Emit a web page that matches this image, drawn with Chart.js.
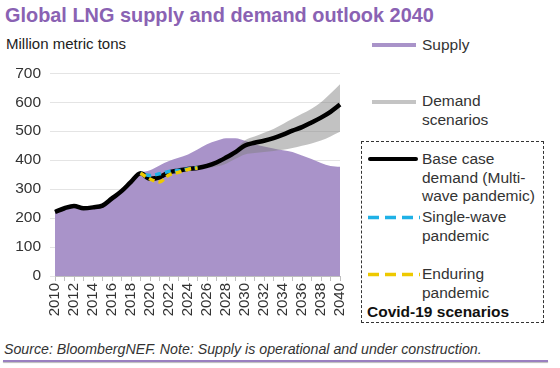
<!DOCTYPE html>
<html>
<head>
<meta charset="utf-8">
<script src="https://cdn.jsdelivr.net/npm/chart.js@4.4.1/dist/chart.umd.min.js"></script>
<style>
  body { margin: 0; width: 560px; height: 368px; background: #fff; font-family: "Liberation Sans", Arial, sans-serif; position: relative; overflow: hidden; }
  .abs { position: absolute; white-space: nowrap; }
  #title { left: 5px; top: 4px; font-size: 19.9px; font-weight: bold; color: #8a62b3; }
  #unit { left: 6px; top: 35px; font-size: 15px; color: #222; }
  #chart { position: absolute; left: 0; top: 55px; }
  .leg { font-size: 15.5px; color: #333; line-height: 18.5px; }
  .sw { position: absolute; height: 4px; }
  #box { left: 361px; top: 141px; width: 181px; height: 180px; border: 1px dashed #333; }
  #source { left: 4px; top: 341px; font-size: 14.2px; font-style: italic; color: #333; }
  #rule { left: 3px; top: 360px; width: 545px; height: 2px; background: #9a80c0; box-shadow: 0 1px 1px #bbb; }
</style>
</head>
<body>
<div class="abs" id="title">Global LNG supply and demand outlook 2040</div>
<div class="abs" id="unit">Million metric tons</div>
<canvas id="chart" width="360" height="280"></canvas>

<div class="sw" style="left:372px;top:43px;width:44px;background:#a993c9"></div>
<div class="abs leg" style="left:422px;top:36px">Supply</div>

<div class="sw" style="left:372px;top:100px;width:44px;background:#c4c4c4"></div>
<div class="abs leg" style="left:422px;top:92px">Demand<br>scenarios</div>

<div class="abs" id="box"></div>
<div class="sw" style="left:368px;top:157px;width:50px;height:4px;background:#000;border-radius:2px"></div>
<div class="abs leg" style="left:422px;top:150px">Base case<br>demand (Multi-<br>wave pandemic)</div>
<svg class="abs" style="left:368px;top:215px" width="52" height="5"><line x1="0" y1="2.5" x2="52" y2="2.5" stroke="#1fb1e6" stroke-width="3.5" stroke-dasharray="11,6"/></svg>
<div class="abs leg" style="left:422px;top:208px">Single-wave<br>pandemic</div>
<svg class="abs" style="left:368px;top:272px" width="52" height="5"><line x1="0" y1="2.5" x2="52" y2="2.5" stroke="#eec900" stroke-width="3.5" stroke-dasharray="11,6"/></svg>
<div class="abs leg" style="left:422px;top:265px">Enduring<br>pandemic</div>
<div class="abs leg" style="left:367px;top:303px;font-weight:bold;color:#111">Covid-19 scenarios</div>

<div class="abs" id="source">Source: BloombergNEF. Note: Supply is operational and under construction.</div>
<div class="abs" id="rule"></div>

<script>
const years = ['2010','2011','2012','2013','2014','2015','2016','2017','2018','2019','2020',
  '2021','2022','2023','2024','2025','2026','2027','2028','2029','2030',
  '2031','2032','2033','2034','2035','2036','2037','2038','2039','2040'];

const supply = [221, 233, 240, 233, 236, 241, 265, 290, 322, 355, 365,
  382, 397, 408, 420, 437, 455, 467, 476, 476, 467,
  456, 447, 440, 434, 428, 416, 404, 390, 380, 377];

const baseDemand = [221, 234, 242, 234, 237, 243, 268, 293, 325, 355, 336,
  341, 358, 364, 370, 373, 380, 392, 409, 428, 451,
  460, 467, 476, 488, 502, 514, 530, 547, 567, 592];

const singleWave = [null, null, null, null, null, null, null, null, null, 355, 347,
  353, 361, 364, 370, 374];

const enduring = [null, null, null, null, null, null, null, null, null, 355, 335,
  325, 349, 358, 368, 373];

const demandLow = [null, null, null, null, null, null, null, null, null, null, null,
  null, null, null, null, 370, 372, 378, 388, 405, 420,
  425, 428, 432, 436, 442, 450, 458, 468, 482, 498];

const demandHigh = [null, null, null, null, null, null, null, null, null, null, null,
  null, null, null, null, 375, 382, 396, 414, 437, 469,
  482, 495, 508, 525, 543, 560, 578, 600, 630, 662];

const yTicks = [0, 100, 200, 300, 400, 500, 600, 700];

new Chart(document.getElementById('chart'), {
  type: 'line',
  data: {
    labels: years,
    datasets: [
      // lower order is drawn on top
      { label: 'Enduring', data: enduring, borderColor: '#eec900', borderWidth: 3.5, borderDash: [6, 4], pointRadius: 0, fill: false, order: 0, cubicInterpolationMode: 'monotone' },
      { label: 'Single-wave', data: singleWave, borderColor: '#1fb1e6', borderWidth: 3.5, borderDash: [6, 4], borderDashOffset: 5, pointRadius: 0, fill: false, order: 1, cubicInterpolationMode: 'monotone' },
      { label: 'Base case', data: baseDemand, borderColor: '#000', borderWidth: 4.5, pointRadius: 0, fill: false, order: 2, cubicInterpolationMode: 'monotone' },
      { label: 'low', data: demandLow, borderColor: 'rgba(0,0,0,0)', borderWidth: 0, pointRadius: 0, fill: false, order: 3, cubicInterpolationMode: 'monotone' },
      { label: 'Demand scenarios', data: demandHigh, borderColor: 'rgba(0,0,0,0)', borderWidth: 0, pointRadius: 0, backgroundColor: 'rgba(128,128,128,0.48)', fill: '-1', order: 3, cubicInterpolationMode: 'monotone' },
      { label: 'Supply', data: supply, borderColor: 'rgba(0,0,0,0)', borderWidth: 0, pointRadius: 0, backgroundColor: '#a993c9', fill: 'origin', order: 5, cubicInterpolationMode: 'monotone' }
    ]
  },
  options: {
    responsive: false,
    devicePixelRatio: 1,
    animation: false,
    layout: { padding: { left: 0, right: 13, top: 14, bottom: 0 } },
    plugins: { legend: { display: false }, tooltip: { enabled: false } },
    scales: {
      x: {
        grid: { drawOnChartArea: false, drawTicks: true, tickLength: 5, color: '#bfbfbf' },
        border: { color: '#bfbfbf' },
        ticks: {
          autoSkip: false, maxRotation: 90, minRotation: 90, padding: 2,
          font: { family: 'Liberation Sans', size: 15 }, color: '#333',
          callback: (v, i) => (i % 2 === 0 ? years[i] : '')
        },
        afterFit: s => { s.height = 59; }
      },
      y: {
        min: 0, max: 700,
        afterBuildTicks: s => { s.ticks = yTicks.map(v => ({ value: v })); },
        grid: { color: '#e4e4e4', tickLength: 5 },
        border: { display: false },
        ticks: { padding: 9, font: { family: 'Liberation Sans', size: 15.5 }, color: '#333' },
        afterFit: s => { s.width = 55; }
      }
    }
  }
});
</script>
</body>
</html>
